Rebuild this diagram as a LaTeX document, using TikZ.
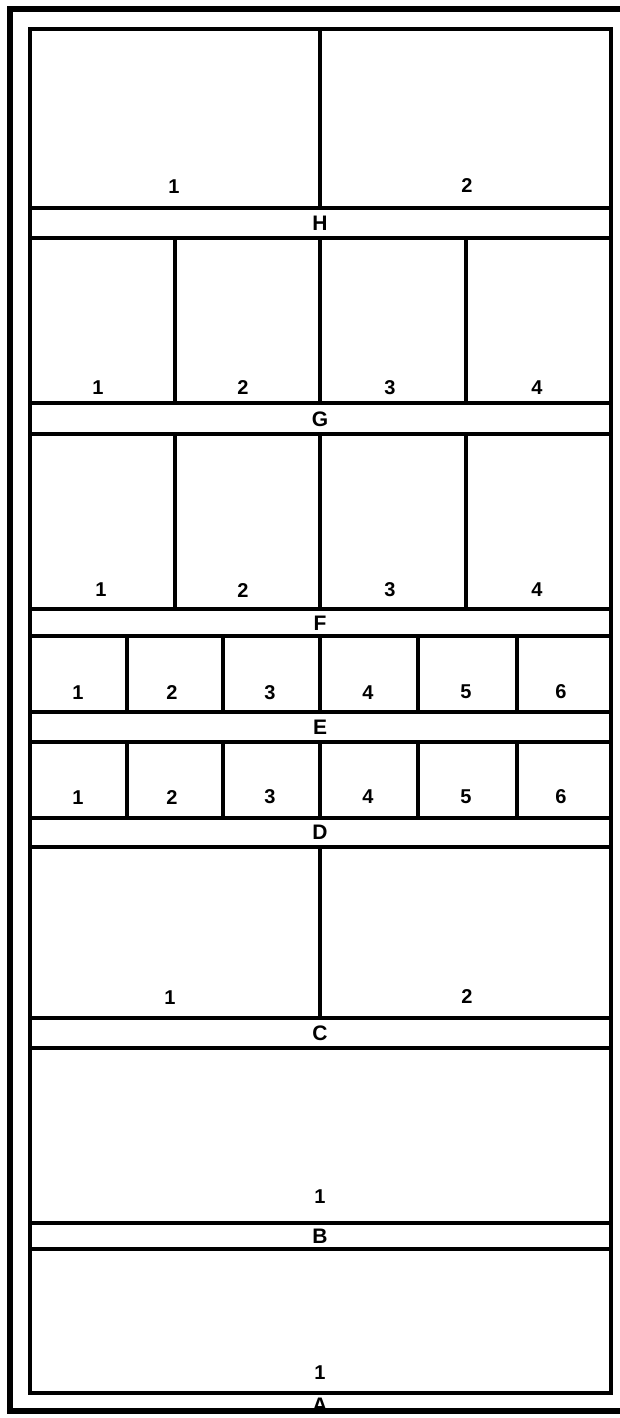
\documentclass[tikz,border=0pt]{standalone}
\usepackage{fontspec}
\setmainfont{Liberation Sans}
\begin{document}
\begin{tikzpicture}[x=1pt,y=-1pt,
  ln/.style={line width=3.2pt},
  frame/.style={line width=5.5pt},
  num/.style={font=\bfseries\fontsize{20}{20}\selectfont, inner sep=0pt, anchor=center},
  lett/.style={font=\bfseries\fontsize{21}{21}\selectfont, inner sep=0pt, anchor=center}]
\path[use as bounding box] (0,0) rectangle (620,1418);
\clip (0,0) rectangle (620,1418);
\fill[white] (0,0) rectangle (620,1418);
% outer frame
\draw[frame] (640,9) -- (10,9) -- (10,1411) -- (640,1411);
% inner frame
\draw[ln] (30,29) rectangle (611,1393);
% band lines
\foreach \yy in {208,238,403,434,609,636,712,742,818,847,1018,1048,1223,1249}
  \draw[ln] (30,\yy) -- (611,\yy);
% dividers
\draw[ln] (320,29) -- (320,208);
\foreach \xx in {175,320,466} {
  \draw[ln] (\xx,238) -- (\xx,403);
  \draw[ln] (\xx,434) -- (\xx,609);
}
\foreach \xx in {127,223,320,418,517} {
  \draw[ln] (\xx,636) -- (\xx,712);
  \draw[ln] (\xx,742) -- (\xx,818);
}
\draw[ln] (320,847) -- (320,1018);
% numbers
\node[num] (h1) at (174,187) {1};
\node[num] (h2) at (467,186) {2};
\node[num] (g1) at (98,388) {1};
\node[num] (g2) at (243,388) {2};
\node[num] (g3) at (390,388) {3};
\node[num] (g4) at (537,388) {4};
\node[num] (f1) at (101,590) {1};
\node[num] (f2) at (243,591) {2};
\node[num] (f3) at (390,590) {3};
\node[num] (f4) at (537,590) {4};
\node[num] (e1) at (78,693) {1};
\node[num] (e2) at (172,693) {2};
\node[num] (e3) at (270,693) {3};
\node[num] (e4) at (368,693) {4};
\node[num] (e5) at (466,692) {5};
\node[num] (e6) at (561,692) {6};
\node[num] (d1) at (78,798) {1};
\node[num] (d2) at (172,798) {2};
\node[num] (d3) at (270,797) {3};
\node[num] (d4) at (368,797) {4};
\node[num] (d5) at (466,797) {5};
\node[num] (d6) at (561,797) {6};
\node[num] (c1) at (170,998) {1};
\node[num] (c2) at (467,997) {2};
\node[num] (b1) at (320,1197) {1};
\node[num] (a1) at (320,1373) {1};
% letters
\node[lett] (H) at (320,223) {H};
\node[lett] (G) at (320,419) {G};
\node[lett] (F) at (320,623) {F};
\node[lett] (E) at (320,727) {E};
\node[lett] (D) at (320,832) {D};
\node[lett] (C) at (320,1033) {C};
\node[lett] (B) at (320,1236) {B};
\node[lett] (A) at (320,1405) {A};
\end{tikzpicture}
\end{document}
